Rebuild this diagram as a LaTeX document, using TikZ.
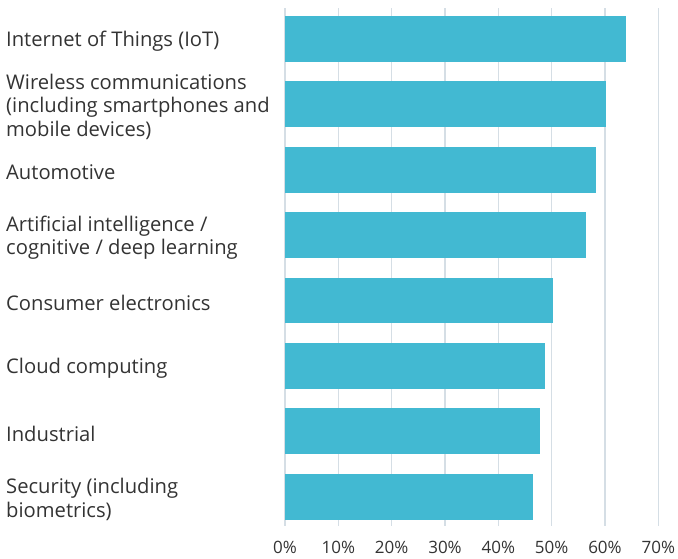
\documentclass[tikz,border=0pt]{standalone}
\usepackage{fontspec}
\setmainfont{Open Sans}
\definecolor{barc}{HTML}{42B9D2}
\definecolor{gridc}{HTML}{D5DEE5}
\definecolor{txtc}{HTML}{333333}
\begin{document}
\begin{tikzpicture}[x=1pt,y=-1pt,
  lbl/.style={anchor=west,align=left,inner sep=0pt,text=txtc,font=\fontsize{20.2}{23.5}\selectfont},
  tick/.style={anchor=base,inner sep=0pt,text=txtc,font=\fontsize{17}{20}\selectfont},
  gridline/.style={draw=gridc,line width=1.6pt},
  bar/.style={fill=barc}]
\useasboundingbox (0,0) rectangle (678,558);
\foreach \i in {0,...,7}{
  \draw[gridline] ({285+53.33*\i},8) -- ({285+53.33*\i},526);
  \pgfmathtruncatemacro{\pc}{10*\i}
  \node[tick] (t\i) at ({285+53.33*\i},553) {\pc\%};
}
\foreach \v/\lab [count=\i from 0] in {
  63.9/{Internet of Things (IoT)},
  60.1/{Wireless communications\\(including smartphones and\\mobile devices)},
  58.3/{Automotive},
  56.4/{Artificial intelligence /\\cognitive / deep learning},
  50.25/{Consumer electronics},
  48.75/{Cloud computing},
  47.8/{Industrial},
  46.5/{Security (including\\biometrics)}}{
  \pgfmathsetmacro{\top}{16+65.4*\i}
  \fill[bar] (285,\top) rectangle ({285+5.333*\v},{\top+45.7});
  \node[lbl] (l\i) at (6,{\top+25.5}) {\lab};
}
\end{tikzpicture}
\end{document}
